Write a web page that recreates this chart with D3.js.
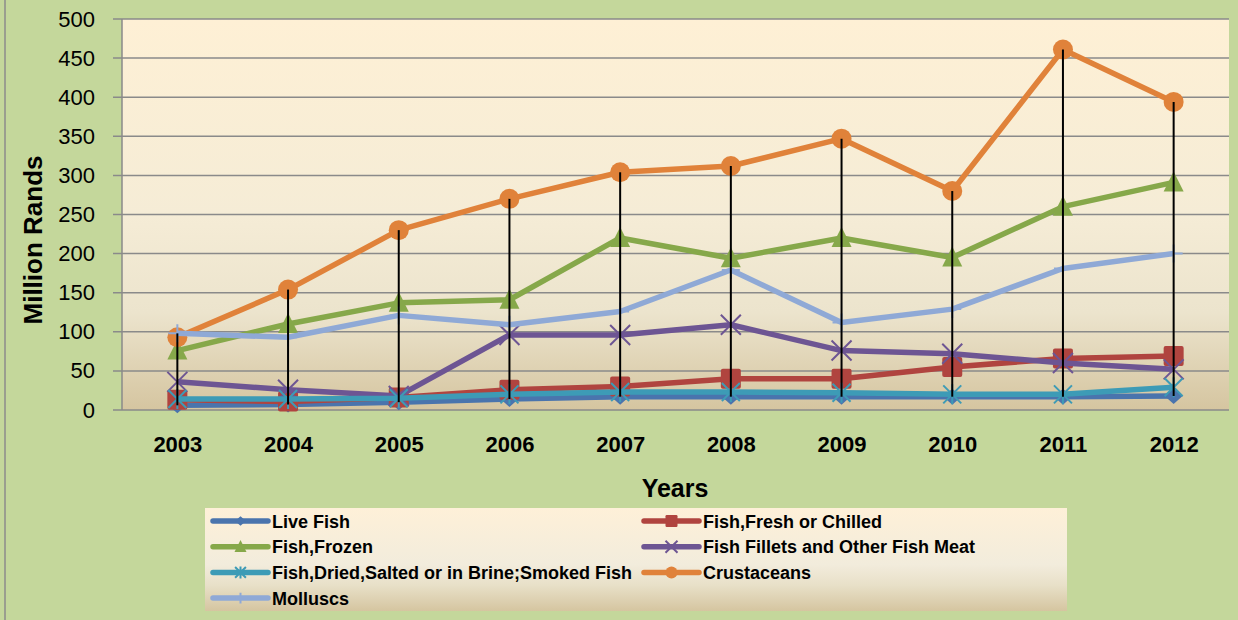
<!DOCTYPE html>
<html><head><meta charset="utf-8">
<script src="https://cdn.jsdelivr.net/npm/d3@7"></script>
<style>
html,body{margin:0;padding:0;background:#c4d79b;}
svg{display:block;font-family:"Liberation Sans",Arial,sans-serif;}
</style></head>
<body><svg id="c" width="1238" height="620"></svg>
<script>
const years = ["2003","2004","2005","2006","2007","2008","2009","2010","2011","2012"];
const yTicks = [0,50,100,150,200,250,300,350,400,450,500];
const liveFish   = [6, 7, 10, 14, 17, 17, 17, 17, 17, 18];
const freshFish  = [13, 11, 16, 26, 30, 40, 40, 55, 66, 69];
const frozenFish = [76, 110, 137, 141, 220, 194, 220, 195, 260, 291];
const fillets    = [36, 26, 18, 96, 96, 109, 76, 72, 60, 52];
const driedFish  = [14, 14, 15, 20, 23, 23, 22, 20, 20, 29];
const crustaceans= [93, 154, 230, 270, 304, 312, 347, 280, 461, 394];
const molluscs   = [98, 93, 121, 109, 126, 179, 112, 129, 181, 200];
const seriesNames = ["Live Fish","Fish,Fresh or Chilled","Fish,Frozen","Fish Fillets and Other Fish Meat","Fish,Dried,Salted or in Brine;Smoked Fish","Crustaceans","Molluscs"];

const series = [
  {name:seriesNames[0], values:liveFish,   color:"#4a74ad", marker:"diamond"},
  {name:seriesNames[1], values:freshFish,  color:"#b0443f", marker:"square"},
  {name:seriesNames[2], values:frozenFish, color:"#86a84a", marker:"triangle"},
  {name:seriesNames[3], values:fillets,    color:"#6d5593", marker:"x"},
  {name:seriesNames[4], values:driedFish,  color:"#3d9bb6", marker:"star"},
  {name:seriesNames[5], values:crustaceans,color:"#e0823a", marker:"circle"},
  {name:seriesNames[6], values:molluscs,   color:"#8fa9d6", marker:"plus"}
];

const svg = d3.select("#c");
const W = 1238, H = 620;
const P = {l:122, r:1229, t:19, b:410};

const defs = svg.append("defs");
const g1 = defs.append("linearGradient").attr("id","pg").attr("x1",0).attr("y1",0).attr("x2",0).attr("y2",1);
[[0,"#fef0d5"],[0.5,"#f5ecd6"],[0.75,"#ece4cd"],[1,"#d5c5a0"]].forEach(s=>g1.append("stop").attr("offset",s[0]).attr("stop-color",s[1]));
const g2 = defs.append("linearGradient").attr("id","lg").attr("x1",0).attr("y1",0).attr("x2",0).attr("y2",1);
[[0,"#fef0d8"],[0.55,"#f2ecdc"],[0.75,"#e8e0c8"],[1,"#d5c5a0"]].forEach(s=>g2.append("stop").attr("offset",s[0]).attr("stop-color",s[1]));

// chart background + border
svg.append("rect").attr("x",0).attr("y",0).attr("width",W).attr("height",H).attr("fill","#c4d79b");
svg.append("rect").attr("x",5).attr("y",-10).attr("width",1400).attr("height",800)
  .attr("fill","none").attr("stroke","#8c8c8c").attr("stroke-width",1.5);

const x = d3.scalePoint().domain(years).range([P.l,P.r]).padding(0.5);
const y = d3.scaleLinear().domain([0,500]).range([P.b,P.t]);

svg.append("rect").attr("x",P.l).attr("y",P.t).attr("width",P.r-P.l).attr("height",P.b-P.t).attr("fill","url(#pg)");

// gridlines
svg.append("g").selectAll("line").data(yTicks).join("line")
  .attr("x1",P.l-9).attr("x2",P.r).attr("y1",d=>y(d)).attr("y2",d=>y(d))
  .attr("stroke","#8a8a8a").attr("stroke-width",1.5);
svg.append("line").attr("x1",P.l).attr("x2",P.l).attr("y1",P.t).attr("y2",P.b).attr("stroke","#8a8a8a").attr("stroke-width",1.5);

// y axis labels
const ya = svg.append("g").attr("transform",`translate(${P.l},0)`)
  .call(d3.axisLeft(y).tickValues(yTicks).tickSize(0).tickPadding(27));
ya.select(".domain").remove();
ya.selectAll("text").attr("font-size",22).attr("fill","#000").attr("font-family","'Liberation Sans',Arial,sans-serif");

// x axis labels
const xa = svg.append("g").attr("transform",`translate(0,${P.b})`)
  .call(d3.axisBottom(x).tickSize(0).tickPadding(26));
xa.select(".domain").remove();
xa.selectAll("text").attr("font-size",22).attr("font-weight","bold").attr("fill","#000").attr("font-family","'Liberation Sans',Arial,sans-serif");

// titles
svg.append("text").attr("x",675).attr("y",497).attr("text-anchor","middle")
  .attr("font-size",25).attr("font-weight","bold").text("Years");
svg.append("text").attr("transform","translate(42,240) rotate(-90)").attr("text-anchor","middle")
  .attr("font-size",26).attr("font-weight","bold").text("Million Rands");

function drawMarker(sel, type, color, s){
  // s = scale factor (1 for plot)
  if(type==="diamond"){
    sel.append("path").attr("d",`M0,${-8*s}L${9*s},0L0,${8*s}L${-9*s},0Z`).attr("fill",color);
  } else if(type==="square"){
    sel.append("rect").attr("x",-10*s).attr("y",-10*s).attr("width",20*s).attr("height",20*s).attr("rx",2*s).attr("fill",color);
  } else if(type==="triangle"){
    sel.append("path").attr("d",`M0,${-11*s}L${10*s},${9*s}L${-10*s},${9*s}Z`).attr("fill",color);
  } else if(type==="circle"){
    sel.append("circle").attr("r",10*s).attr("fill",color);
  } else if(type==="x"){
    sel.append("path").attr("d",`M${-10*s},${-10*s}L${10*s},${10*s}M${10*s},${-10*s}L${-10*s},${10*s}`)
      .attr("stroke",color).attr("stroke-width",2).attr("fill","none");
  } else if(type==="star"){
    sel.append("path").attr("d",`M${-9*s},${-9*s}L${9*s},${9*s}M${9*s},${-9*s}L${-9*s},${9*s}M0,${-10*s}L0,${10*s}`)
      .attr("stroke",color).attr("stroke-width",2).attr("fill","none");
  } else if(type==="plus"){
    sel.append("path").attr("d",`M0,${-9*s}L0,${9*s}M${-9*s},0L${9*s},0`)
      .attr("stroke",color).attr("stroke-width",2).attr("fill","none");
  }
}

const line = d3.line().x((d,i)=>x(years[i])).y(d=>y(d));
series.forEach(s=>{
  const g = svg.append("g");
  g.append("path").attr("d",line(s.values)).attr("fill","none").attr("stroke",s.color)
    .attr("stroke-width",5.5).attr("stroke-linejoin","round");
  s.values.forEach((v,i)=>{
    const m = g.append("g").attr("transform",`translate(${x(years[i])},${y(v)})`);
    drawMarker(m, s.marker, s.color, 1);
  });
});

// high-low lines
svg.append("g").selectAll("line").data(years).join("line")
  .attr("x1",d=>x(d)).attr("x2",d=>x(d))
  .attr("y1",(d,i)=>y(d3.max(series,s=>s.values[i])))
  .attr("y2",(d,i)=>y(d3.min(series,s=>s.values[i])))
  .attr("stroke","#000").attr("stroke-width",2);

// legend
svg.append("rect").attr("x",205).attr("y",508).attr("width",862).attr("height",103).attr("fill","url(#lg)");
const lg = svg.append("g");
series.forEach((s,i)=>{
  const col = i%2, row = Math.floor(i/2);
  const lx = col===0 ? 213 : 644;
  const ly = 521 + row*25.7;
  const e = lg.append("g").attr("transform",`translate(${lx},${ly})`);
  e.append("line").attr("x1",0).attr("x2",55).attr("y1",0).attr("y2",0)
    .attr("stroke",s.color).attr("stroke-width",5.5).attr("stroke-linecap","round");
  const m = e.append("g").attr("transform","translate(27.5,0)");
  drawMarker(m, s.marker, s.color, 0.6);
  e.append("text").attr("x",59).attr("y",6.5).attr("font-size",18).attr("font-weight","bold").attr("fill","#000").text(s.name);
});
</script></body></html>
